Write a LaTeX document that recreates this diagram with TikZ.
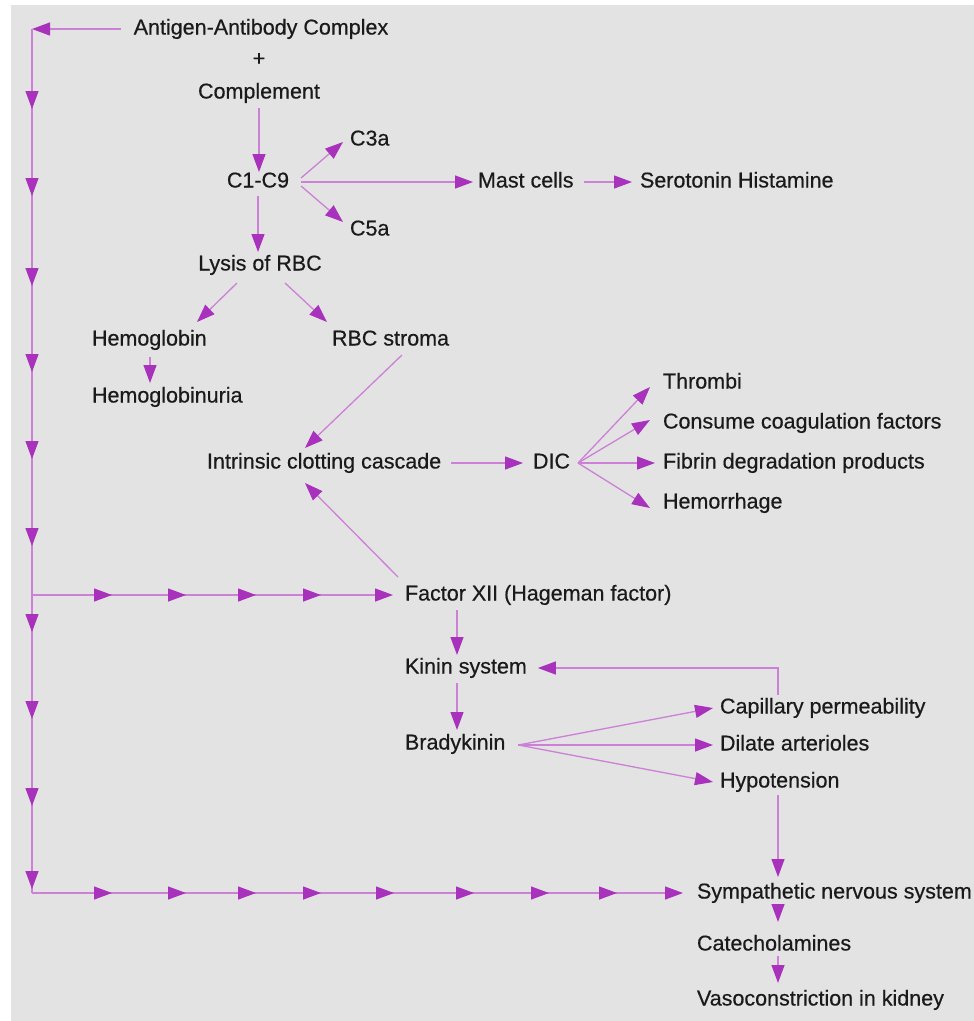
\documentclass[tikz,border=0pt]{standalone}
\usepackage{fontspec}
\setmainfont{Liberation Sans}[FakeBold=0.5]
\usetikzlibrary{arrows.meta,calc,decorations.markings}
\definecolor{bgcol}{HTML}{E3E3E3}
\definecolor{linecol}{HTML}{CC80D6}
\definecolor{headcol}{HTML}{A832BC}
\definecolor{txtcol}{HTML}{1A1A1A}
\begin{document}
\begin{tikzpicture}[x=1pt,y=-1pt,
  lbl/.style={inner sep=0pt, outer sep=0pt, text=txtcol, font=\fontsize{21.5}{26}\selectfont, text height=15.5pt, text depth=4.5pt},
  lw/.style={lbl, anchor=west},
  myhead/.tip={Triangle[length=18pt,width=13pt,color=headcol]},
  link/.style={draw=linecol, line width=1.3pt},
  arr/.style={link, -myhead}]
\useasboundingbox (0,0) rectangle (974,1021);
\fill[white] (0,0) rectangle (974,1021);
\fill[bgcol] (11,5) rectangle (974,1021);

% nodes
\node[lbl] (title) at (261,29) {Antigen-Antibody Complex};
\node[lbl] (plus) at (259,60) {+};
\node[lbl] (comp) at (259,93) {Complement};
\node[lbl] (c19) at (258,182) {C1-C9};
\node[lw] (c3a) at (350,140) {C3a};
\node[lw] (c5a) at (350,230) {C5a};
\node[lw] (mast) at (478,182) {Mast cells};
\node[lw] (sero) at (640,182) {Serotonin Histamine};
\node[lbl] (lysis) at (260,265) {Lysis of RBC};
\node[lw] (hemo) at (92,340) {Hemoglobin};
\node[lw] (hemou) at (92,397) {Hemoglobinuria};
\node[lw] (stroma) at (332,340) {RBC stroma};
\node[lw] (intr) at (207,463) {Intrinsic clotting cascade};
\node[lw] (dic) at (533,463) {DIC};
\node[lw] (thr) at (663,383) {Thrombi};
\node[lw] (cons) at (663,423) {Consume coagulation factors};
\node[lw] (fib) at (663,463) {Fibrin degradation products};
\node[lw] (hem) at (663,503) {Hemorrhage};
\node[lw] (f12) at (405,595) {Factor XII (Hageman factor)};
\node[lw] (kinin) at (405,668) {Kinin system};
\node[lw] (brady) at (405,744) {Bradykinin};
\node[lw] (cap) at (720,708) {Capillary permeability};
\node[lw] (dil) at (720,745) {Dilate arterioles};
\node[lw] (hypo) at (720,782) {Hypotension};
\node[lw] (symp) at (697,893) {Sympathetic nervous system};
\node[lw] (cat) at (697,945) {Catecholamines};
\node[lw] (vaso) at (697,1000) {Vasoconstriction in kidney};

\coordinate (tl) at (32,29);
\coordinate (ml) at (32,595);
\coordinate (bl) at (32,893);
\coordinate (fb) at (778,695);

% left trunk
\draw[arr, shorten <=13pt] (title.west) -- (tl);
\draw[link, postaction={decorate}, decoration={markings,
  mark=at position 80pt with {\arrow{myhead}},
  mark=at position 167pt with {\arrow{myhead}},
  mark=at position 257pt with {\arrow{myhead}},
  mark=at position 343pt with {\arrow{myhead}},
  mark=at position 430pt with {\arrow{myhead}},
  mark=at position 517pt with {\arrow{myhead}},
  mark=at position 603pt with {\arrow{myhead}},
  mark=at position 690pt with {\arrow{myhead}},
  mark=at position 777pt with {\arrow{myhead}},
  mark=at position 860pt with {\arrow{myhead}}}] (tl) -- (bl);
\draw[arr, shorten >=12pt, postaction={decorate}, decoration={markings,
  mark=at position 80pt with {\arrow{myhead}},
  mark=at position 154pt with {\arrow{myhead}},
  mark=at position 224pt with {\arrow{myhead}},
  mark=at position 289pt with {\arrow{myhead}}}] (ml) -- (f12.west);
\draw[arr, shorten >=14pt, postaction={decorate}, decoration={markings,
  mark=at position 80pt with {\arrow{myhead}},
  mark=at position 154pt with {\arrow{myhead}},
  mark=at position 224pt with {\arrow{myhead}},
  mark=at position 289pt with {\arrow{myhead}},
  mark=at position 362pt with {\arrow{myhead}},
  mark=at position 442pt with {\arrow{myhead}},
  mark=at position 517pt with {\arrow{myhead}},
  mark=at position 585pt with {\arrow{myhead}}}] (bl) -- (symp.west);

% complement branch
\draw[arr] ($(comp.south)+(0,5)$) -- (comp.south |- c19.north);
\draw[arr] ($(c19.south)+(0,4)$) -- ($(c19.south |- lysis.north)+(0,-3)$);
\draw[arr] ($(c19.east)+(12,-4)$) -- ($(c3a.west)+(-7,2)$);
\draw[arr] ($(c19.east)+(12,4)$) -- ($(c5a.west)+(-7,-8)$);
\draw[arr] ($(c19.east)+(12,0)$) -- ($(mast.west)+(-5,0)$);
\draw[arr, shorten <=10pt, shorten >=8pt] (mast.east) -- (sero.west);

% lysis branch
\draw[arr] ($(lysis.center)+(-23,18)$) -- ($(hemo.west)+(105,-18)$);
\draw[arr] ($(lysis.center)+(25,18)$) -- ($(stroma.west)+(-5,-18)$);
\draw[arr] ($(hemo.west)+(58,17)$) -- ($(hemou.west)+(58,-14)$);
\draw[arr] ($(stroma.west)+(70,15)$) -- ($(intr.west)+(98,-15)$);
\draw[arr] ($(f12.west)+(-7,-18)$) -- ($(intr.west)+(98,20)$);

% DIC
\draw[arr, shorten <=10pt, shorten >=10pt] (intr.east) -- (dic.west);
\draw[arr] ($(dic.east)+(8,0)$) -- ($(thr.west)+(-13,4)$);
\draw[arr] ($(dic.east)+(8,0)$) -- ($(cons.west)+(-13,-3)$);
\draw[arr] ($(dic.east)+(8,0)$) -- ($(fib.west)+(-8,0)$);
\draw[arr] ($(dic.east)+(8,0)$) -- ($(hem.west)+(-13,5)$);

% kinin
\draw[arr] ($(f12.west)+(52,15)$) -- ($(kinin.west)+(52,-13)$);
\draw[arr] ($(kinin.west)+(52,15)$) -- ($(brady.west)+(52,-14)$);
\draw[arr] ($(brady.east)+(13,1)$) -- ($(cap.west)+(-7,0)$);
\draw[arr] ($(brady.east)+(13,1)$) -- ($(dil.west)+(-7,0)$);
\draw[arr] ($(brady.east)+(13,1)$) -- ($(hypo.west)+(-7,0)$);
\draw[arr] (fb) -- (fb |- kinin.east) -- ($(kinin.east)+(11,0)$);

% sympathetic
\draw[arr] ($(hypo.west)+(58,13)$) -- ($(symp.west)+(81,-16)$);
\draw[arr] ($(symp.west)+(81,14)$) -- ($(cat.west)+(81,-23)$);
\draw[arr] ($(cat.west)+(81,11)$) -- ($(vaso.west)+(81,-17)$);
\end{tikzpicture}
\end{document}
